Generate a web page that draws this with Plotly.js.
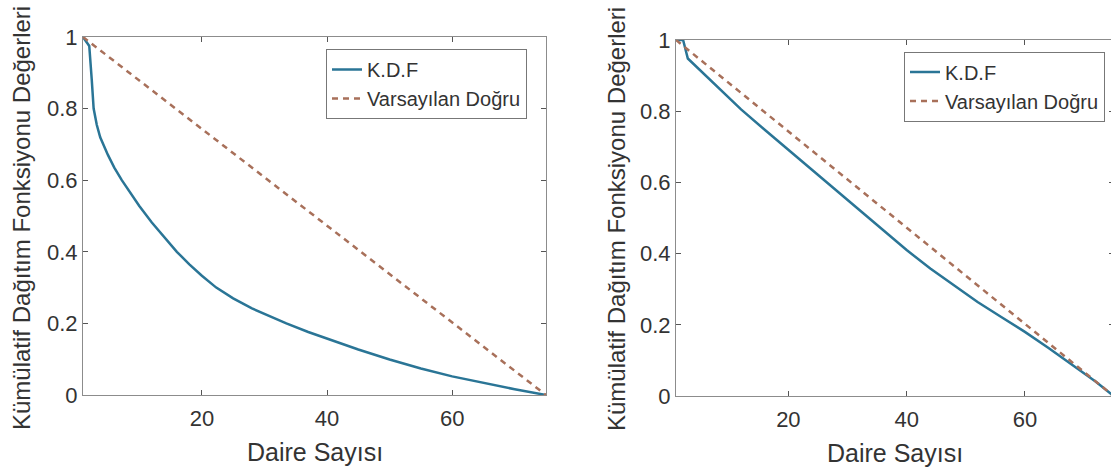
<!DOCTYPE html>
<html><head><meta charset="utf-8">
<script src="https://cdn.plot.ly/plotly-3.0.1.min.js"></script>
<style>
html,body{margin:0;padding:0;overflow:hidden;background:#fff}
#wrap{width:1111px;height:468px;overflow:hidden}
#chart{width:1115px;height:468px}
</style>
</head><body><div id="wrap"><div id="chart"></div></div>
<script>
// Left panel: K.D.F curve
const xLeft = [1, 2, 2.4, 2.7, 3.2, 3.75, 5, 6, 7.2, 8.5, 10, 12, 14, 16, 18, 20, 22.3, 25, 28, 31, 33.5, 37, 40, 45, 50, 55, 60, 65, 70, 75];
const yLeft = [1, 0.975, 0.88, 0.8, 0.755, 0.72, 0.67, 0.635, 0.6, 0.565, 0.528, 0.482, 0.44, 0.4, 0.365, 0.333, 0.3, 0.27, 0.242, 0.218, 0.2, 0.176, 0.157, 0.127, 0.099, 0.074, 0.052, 0.033, 0.016, 0];
// Right panel: K.D.F curve
const xRight = [1, 2.2, 3, 6, 9, 12, 16, 20, 24, 28, 32, 36, 40, 44, 48, 52, 56, 60, 64, 68, 72, 75];
const yRight = [1, 1, 0.948, 0.9, 0.853, 0.805, 0.748, 0.692, 0.636, 0.58, 0.522, 0.466, 0.41, 0.358, 0.31, 0.264, 0.222, 0.18, 0.135, 0.088, 0.04, 0];
// Reference (default) line
const lineX = [1, 75];
const lineY = [1, 0];
// Ticks and labels
const xTicks = [20, 40, 60];
const yTicks = [0, 0.2, 0.4, 0.6, 0.8, 1];
const yTickText = ['0', '0.2', '0.4', '0.6', '0.8', '1'];
const seriesNames = ['K.D.F', 'Varsayılan Doğru'];
const xTitle = 'Daire Sayısı';
const yTitle = 'Kümülatif Dağıtım Fonksiyonu Değerleri';

const W = 1115, H = 468;
const FONT = 'Liberation Sans, Arial, Helvetica, sans-serif';
const blue = '#2a7596';
const orange = '#a8705a';

function xa(d0, d1, anchor) {
  return {domain: [d0 / W, d1 / W], anchor: anchor, range: [1, 75], tickvals: xTicks,
    ticks: 'inside', ticklen: 5, tickcolor: '#555', tickwidth: 1, ticklabelstandoff: 4,
    showline: true, linecolor: '#8c8c8c', linewidth: 1, mirror: 'ticks',
    showgrid: false, zeroline: false, tickfont: {size: 22, color: '#333'}, fixedrange: true};
}
function ya(top, bot, anchor) {
  return {domain: [1 - bot / H, 1 - top / H], anchor: anchor, range: [0, 1], tickvals: yTicks, ticktext: yTickText,
    ticks: 'inside', ticklen: 5, tickcolor: '#555', tickwidth: 1,
    showline: true, linecolor: '#8c8c8c', linewidth: 1, mirror: 'ticks',
    showgrid: false, zeroline: false, tickfont: {size: 22, color: '#333'}, fixedrange: true};
}

const data = [
  {x: xLeft, y: yLeft, xaxis: 'x', yaxis: 'y', mode: 'lines', name: seriesNames[0], legend: 'legend',
   line: {color: blue, width: 2.5}},
  {x: lineX, y: lineY, xaxis: 'x', yaxis: 'y', mode: 'lines', name: seriesNames[1], legend: 'legend',
   line: {color: orange, width: 2.5, dash: '6px,5px'}},
  {x: xRight, y: yRight, xaxis: 'x2', yaxis: 'y2', mode: 'lines', name: seriesNames[0], legend: 'legend2',
   line: {color: blue, width: 2.5}},
  {x: lineX, y: lineY, xaxis: 'x2', yaxis: 'y2', mode: 'lines', name: seriesNames[1], legend: 'legend2',
   line: {color: orange, width: 2.5, dash: '6px,5px'}}
];

const legendBase = {xanchor: 'left', yanchor: 'top', bgcolor: '#fff', bordercolor: '#777', borderwidth: 1,
  font: {size: 20, color: '#333', family: FONT}, itemwidth: 30, tracegroupgap: 0};

const titleFont = {size: 25, color: '#333', family: FONT};
const yTitleFont = {size: 24, color: '#333', family: FONT};
const layout = {
  width: W, height: H,
  margin: {l: 0, r: 0, t: 0, b: 0},
  paper_bgcolor: '#fff', plot_bgcolor: '#fff',
  font: {family: FONT, color: '#333'},
  xaxis: xa(83, 546, 'y'),
  yaxis: ya(37, 395, 'x'),
  xaxis2: xa(676, 1113.6, 'y2'),
  yaxis2: ya(40, 396, 'x2'),
  legend: Object.assign({}, legendBase, {x: 326 / W, y: 1 - 49 / H}),
  legend2: Object.assign({}, legendBase, {x: 904 / W, y: 1 - 51.5 / H}),
  annotations: [
    {text: xTitle, xref: 'paper', yref: 'paper', x: 314.5 / W, y: 1 - 452 / H, xanchor: 'center', yanchor: 'middle', showarrow: false, font: titleFont},
    {text: xTitle, xref: 'paper', yref: 'paper', x: 894.8 / W, y: 1 - 453 / H, xanchor: 'center', yanchor: 'middle', showarrow: false, font: titleFont},
    {text: yTitle, xref: 'paper', yref: 'paper', x: 21 / W, y: 1 - 218 / H, xanchor: 'center', yanchor: 'middle', textangle: -90, showarrow: false, font: yTitleFont},
    {text: yTitle, xref: 'paper', yref: 'paper', x: 616 / W, y: 1 - 219 / H, xanchor: 'center', yanchor: 'middle', textangle: -90, showarrow: false, font: yTitleFont}
  ],
  showlegend: true
};

Plotly.newPlot('chart', data, layout, {displayModeBar: false, staticPlot: true});
</script>
</body></html>
